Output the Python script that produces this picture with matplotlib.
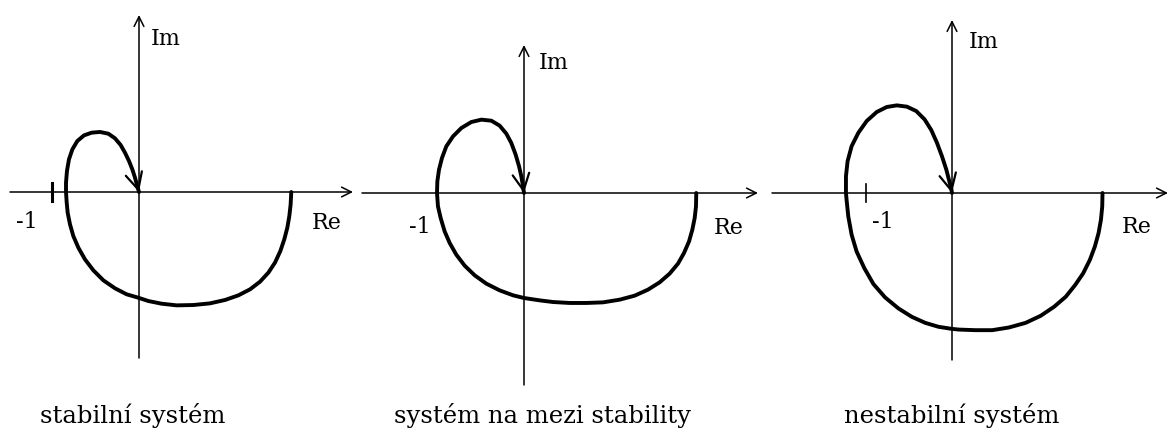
import numpy as np
import matplotlib.pyplot as plt

plt.rcParams.update({
    'font.family': ['DejaVu Serif'],
    'figure.facecolor': 'white',
    'savefig.facecolor': 'white',
})

# Nyquist curves (Re, Im), traced from the high frequency end back to the origin
stable_re = [1.75, 1.743, 1.728, 1.705, 1.670, 1.625, 1.563, 1.487, 1.391, 1.276,
             1.142, 0.989, 0.816, 0.625, 0.433, 0.261, 0.107, -0.008, -0.142, -0.276,
             -0.410, -0.525, -0.621, -0.697, -0.755, -0.793, -0.820, -0.831, -0.839,
             -0.839, -0.828, -0.805, -0.766, -0.709, -0.632, -0.544, -0.448, -0.352,
             -0.276, -0.211, -0.161, -0.115, -0.077, -0.046, -0.023, 0.0]
stable_im = [0.0, -0.142, -0.276, -0.410, -0.544, -0.678, -0.812, -0.927, -1.031, -1.119,
             -1.188, -1.241, -1.280, -1.299, -1.303, -1.284, -1.253, -1.215, -1.176, -1.107,
             -1.015, -0.900, -0.774, -0.640, -0.506, -0.372, -0.238, -0.123, 0.0,
             0.107, 0.241, 0.375, 0.490, 0.586, 0.651, 0.682, 0.690, 0.670,
             0.617, 0.540, 0.452, 0.356, 0.261, 0.165, 0.080, 0.0]

border_re = [1.98, 1.977, 1.962, 1.935, 1.897, 1.839, 1.770, 1.674, 1.559, 1.425,
             1.272, 1.100, 0.908, 0.716, 0.525, 0.333, 0.180, 0.0, -0.126, -0.280,
             -0.433, -0.567, -0.682, -0.778, -0.854, -0.912, -0.958, -0.989, -1.0,
             -0.996, -0.977, -0.943, -0.893, -0.816, -0.720, -0.605, -0.490, -0.375,
             -0.280, -0.203, -0.146, -0.096, -0.057, -0.031, -0.011, 0.0]
border_im = [0.0, -0.153, -0.287, -0.421, -0.556, -0.690, -0.812, -0.927, -1.027, -1.111,
             -1.180, -1.226, -1.257, -1.264, -1.264, -1.253, -1.234, -1.207, -1.176, -1.119,
             -1.042, -0.946, -0.835, -0.709, -0.575, -0.441, -0.287, -0.153, 0.0,
             0.134, 0.268, 0.402, 0.536, 0.651, 0.747, 0.816, 0.843, 0.831,
             0.774, 0.682, 0.575, 0.441, 0.307, 0.192, 0.077, 0.0]

unstable_re = [1.75, 1.747, 1.732, 1.704, 1.661, 1.603, 1.525, 1.432, 1.323, 1.187,
               1.031, 0.856, 0.661, 0.467, 0.272, 0.078, 0.0, -0.156, -0.311, -0.467,
               -0.623, -0.778, -0.914, -1.019, -1.109, -1.167, -1.206, -1.226, -1.233,
               -1.233, -1.214, -1.167, -1.089, -0.992, -0.875, -0.759, -0.642, -0.525,
               -0.416, -0.319, -0.241, -0.175, -0.117, -0.066, -0.031, -0.008, 0.0]
unstable_im = [0.0, -0.156, -0.311, -0.467, -0.623, -0.778, -0.934, -1.070, -1.206, -1.323,
               -1.428, -1.510, -1.564, -1.595, -1.595, -1.588, -1.580, -1.556, -1.510, -1.440,
               -1.342, -1.214, -1.058, -0.875, -0.681, -0.486, -0.272, -0.078, 0.0,
               0.195, 0.370, 0.545, 0.700, 0.837, 0.942, 1.0, 1.019, 1.004,
               0.953, 0.856, 0.732, 0.584, 0.428, 0.272, 0.136, 0.047, 0.0]

captions = ['stabilní systém', 'systém na mezi stability', 'nestabilní systém']

W, H = 1170, 441

# panel layout in pixels: origin, px per unit, axes extent, axis spans,
# label anchors and the -1 tick width
panels = [
    dict(re=stable_re, im=stable_im, ox=139, oy=192, s=87, x0=0, x1=360,
         re_ax=(10, 353), im_ax=(358, 15), im_lab=(151, 39), re_lab=(312, 223),
         m1_lab=(16, 222), tick_lw=2.2, cap_x=133),
    dict(re=border_re, im=border_im, ox=524, oy=193, s=87, x0=355, x1=765,
         re_ax=(362, 758), im_ax=(385, 45), im_lab=(539, 63), re_lab=(714, 228),
         m1_lab=(409, 227), tick_lw=None, cap_x=543),
    dict(re=unstable_re, im=unstable_im, ox=952, oy=193, s=86, x0=765, x1=1170,
         re_ax=(772, 1168), im_ax=(360, 20), im_lab=(969, 42), re_lab=(1122, 227),
         m1_lab=(872, 222), tick_lw=1.2, cap_x=952),
]

fig = plt.figure(figsize=(W / 100, H / 100), dpi=100)

axis_arrow = dict(arrowstyle='->,head_length=0.7,head_width=0.35', lw=1.1,
                  color='black', shrinkA=0, shrinkB=0, mutation_scale=10)

for p in panels:
    ox, oy, s = p['ox'], p['oy'], p['s']
    ax = fig.add_axes([p['x0'] / W, 0, (p['x1'] - p['x0']) / W, 1])
    ax.set_xlim((p['x0'] - ox) / s, (p['x1'] - ox) / s)
    ax.set_ylim((oy - H) / s, oy / s)
    ax.axis('off')

    def u(px, py):
        return (px - ox) / s, (oy - py) / s

    # real and imaginary axes with open arrowheads
    ax.annotate('', xy=u(p['re_ax'][1], oy), xytext=u(p['re_ax'][0], oy),
                arrowprops=axis_arrow, annotation_clip=False)
    ax.annotate('', xy=u(ox, p['im_ax'][1]), xytext=u(ox, p['im_ax'][0]),
                arrowprops=axis_arrow, annotation_clip=False)

    # -1 marker on the real axis
    if p['tick_lw']:
        ax.plot([-1, -1], [-0.1, 0.1], color='black', lw=p['tick_lw'], clip_on=False)

    # frequency response locus with arrow into the origin
    ax.plot(p['re'], p['im'], color='black', lw=2.8, solid_joinstyle='round',
            solid_capstyle='round', clip_on=False)
    ax.annotate('', xy=(p['re'][-1], p['im'][-1]), xytext=(p['re'][-3], p['im'][-3]),
                arrowprops=dict(arrowstyle='->,head_length=1.2,head_width=0.6', lw=1.6,
                                color='black', shrinkA=0, shrinkB=0, mutation_scale=10),
                annotation_clip=False)

    ax.text(*u(*p['im_lab']), 'Im', fontsize=16, ha='left', va='center')
    ax.text(*u(*p['re_lab']), 'Re', fontsize=16, ha='left', va='center')
    ax.text(*u(*p['m1_lab']), '-1', fontsize=16, ha='left', va='center')

for p, cap in zip(panels, captions):
    fig.text(p['cap_x'] / W, 1 - 415 / H, cap, fontsize=17.5, ha='center', va='center')

fig.savefig('out.png', dpi=100)
